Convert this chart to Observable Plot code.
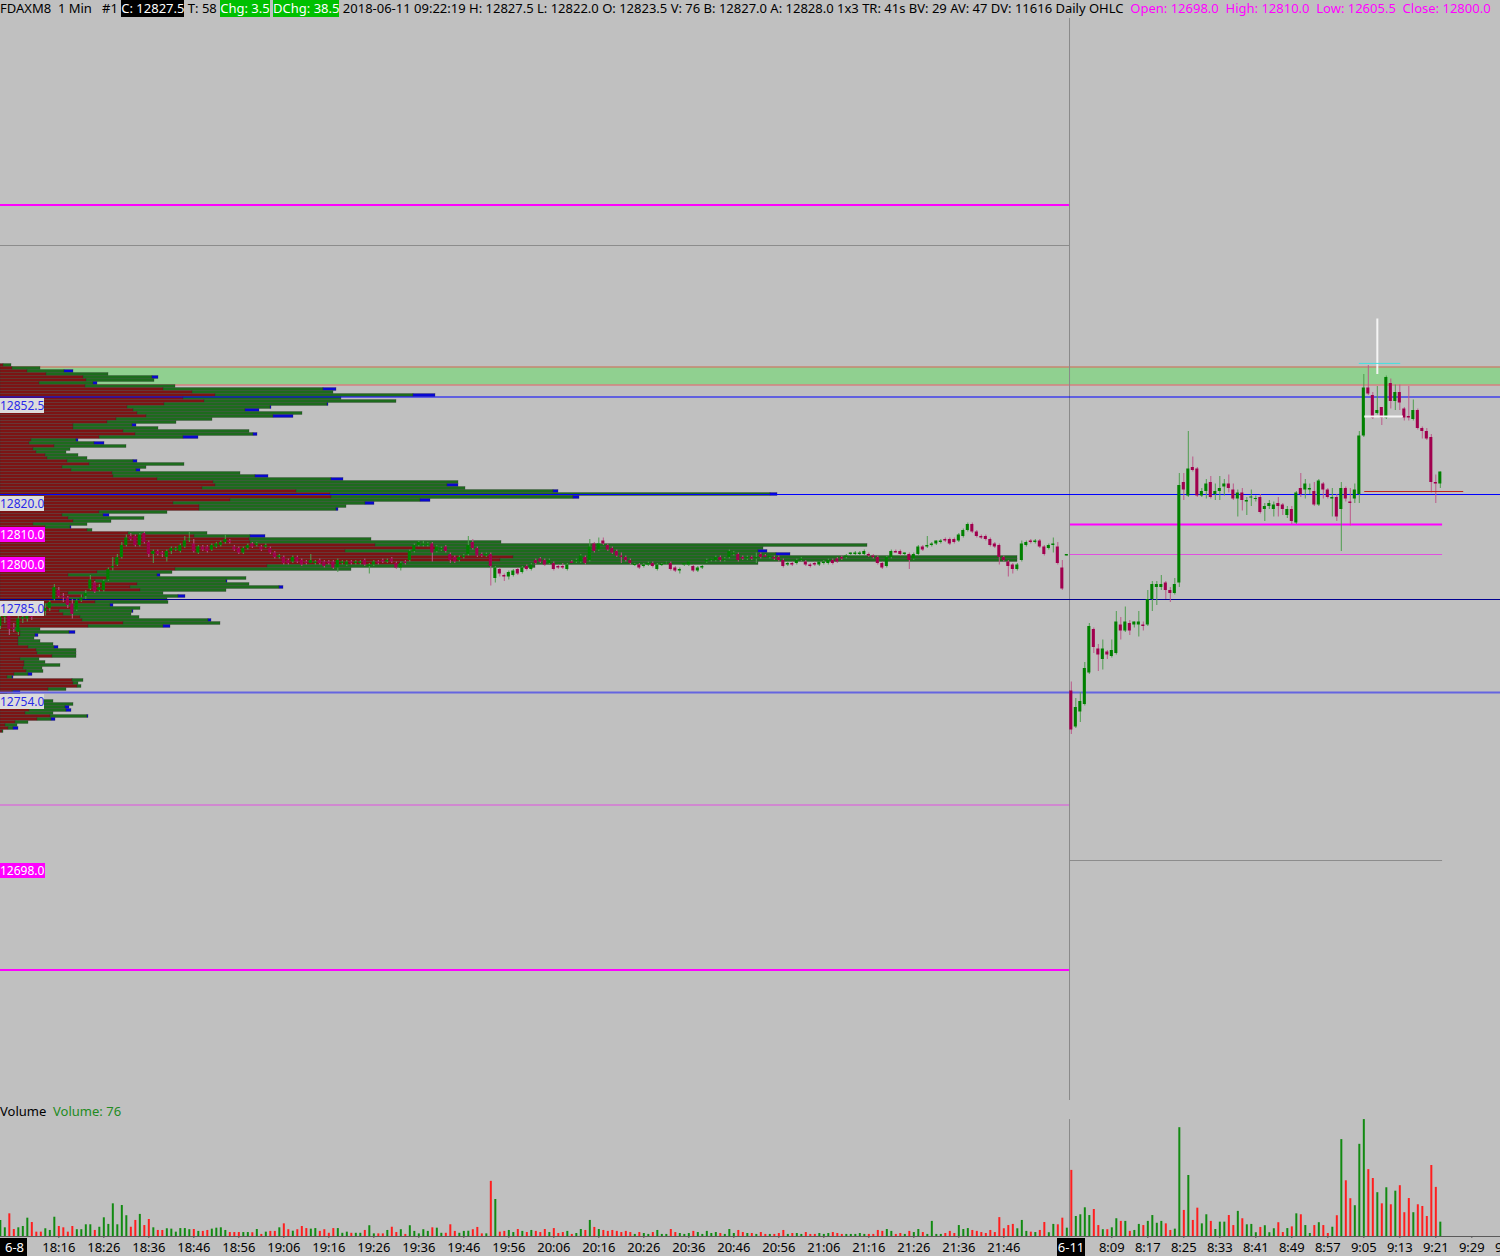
<!DOCTYPE html>
<html>
<head>
<meta charset="utf-8">
<script src="https://cdn.jsdelivr.net/npm/d3@7"></script>
<script src="https://cdn.jsdelivr.net/npm/@observablehq/plot@0.6"></script>
<style>
html,body{margin:0;padding:0;background:#c0c0c0;overflow:hidden}
#root{position:relative;width:1500px;height:1256px;background:#c0c0c0;font-family:"Noto Sans",sans-serif;overflow:hidden}
.hdr{position:absolute;left:0;top:0;height:18px;line-height:17px;font-size:13px;white-space:pre;color:#000}
.hdr .blk{background:#000;color:#fff}
.hdr .grn{background:#00c000;color:#fff}
.hdr .mag{color:#ff00ff}
#pricebox{position:absolute;left:0;top:18px;width:1500px;height:1082px}
#pricebox svg{position:absolute;left:0;top:0}
.plab{position:absolute;font-size:12px;line-height:15px;height:15px;white-space:pre}
.plab.lt{background:#dcdcdc;color:#2a2ae8}
.plab.mg{background:#ff00ff;color:#fff}
#volbox{position:absolute;left:0;top:1100px;width:1500px;height:156px}
#volbox svg{position:absolute;left:0;top:0}
.vlab{position:absolute;left:0;top:3px;font-size:13px;line-height:16px;white-space:pre}
.dlab{position:absolute;top:138px;height:18px;line-height:18px;font-size:13px;background:#000;color:#fff;white-space:pre}
</style>
</head>
<body>
<div id="root">
  <div id="hdr" class="hdr"></div>
  <div id="pricebox"></div>
  <div id="volbox"></div>
</div>
<script>
// ---------------- header texts ----------------
const headerLead = "FDAXM8  1 Min   #1 ";
const headerLast = "C: 12827.5";
const headerTicks = " T: 58 ";
const headerChg = "Chg: 3.5";
const headerDChg = "DChg: 38.5";
const headerInfo = " 2018-06-11 09:22:19 H: 12827.5 L: 12822.0 O: 12823.5 V: 76 B: 12827.0 A: 12828.0 1x3 TR: 41s BV: 29 AV: 47 DV: 11616 Daily OHLC";
const dailyOpen = 12698.0, dailyHigh = 12810.0, dailyLow = 12605.5, dailyClose = 12800.0;

// ---------------- price bars (open, high, low, close) ----------------
const leftStart = 3;   // bar index of first visible bar of 2018-6-8 (18:03), index = minutes after 18:00
const leftBars = [
[12776,12780,12775,12779],[12779,12781,12777,12780],[12780,12781,12773,12775],[12775.5,12777,12774,12775],[12774,12780,12773,12778.5],[12778.5,12780,12777,12779],[12778.5,12780.5,12777.5,12779.5],[12780,12781,12778,12779],[12781.5,12782.5,12780,12780.5],[12782.5,12783,12781,12781.5],
[12781,12783.5,12779.5,12782],[12782,12784.5,12781,12784],[12785,12790,12784.5,12789],[12788,12789,12785.5,12786],[12786,12787,12784,12785.5],[12785.5,12786,12782,12783],[12783.5,12785,12778.5,12780],[12781.5,12785,12781,12784.5],[12784.5,12786.5,12784,12785.5],[12786,12788,12785,12787],
[12788.5,12793,12788,12791.5],[12790.5,12791,12787,12787.5],[12788,12790,12787.5,12789],[12788,12791.5,12787.5,12791],[12791.5,12795.5,12791,12795],[12795.5,12799,12794.5,12796],[12796.5,12800,12796,12799],[12799,12804,12798.5,12803],[12803,12806.5,12802.5,12805.5],[12806,12807,12804.5,12805],
[12806,12806.5,12802.5,12803],[12803,12807,12802.5,12806.5],[12807,12807.5,12803.5,12804],[12804,12804.5,12799,12800],[12800,12801.5,12797,12801],[12801,12801.5,12799.5,12800],[12800.5,12801,12799,12800],[12799,12801.5,12797.5,12801],[12801,12802.5,12800,12802],[12801.5,12802.5,12801,12802],
[12801,12803.5,12800.5,12803],[12802.5,12806,12802,12804.5],[12805,12807.5,12804,12805],[12803.5,12805,12800.5,12801],[12800.5,12803,12800,12802.5],[12802.5,12803,12801,12801.5],[12802.5,12803,12800.5,12801],[12801.5,12803.5,12801,12803],[12802.5,12804,12802,12803.5],[12803,12804.5,12802.5,12804],
[12804,12806.5,12803.5,12805],[12804.5,12805,12803.5,12804],[12802.5,12803,12801,12801.5],[12802,12802.5,12800,12800.5],[12800.5,12802.5,12800,12802],[12802,12803.5,12801.5,12803],[12803.5,12804,12802,12802.5],[12803,12804,12802.5,12803.5],[12802.5,12803,12801,12801.5],[12802.5,12803.5,12802,12803],
[12802,12802.5,12800,12800.5],[12800.5,12801,12798.5,12799],[12799,12800,12798.5,12799.5],[12799,12799.5,12796.5,12797],[12798,12798.5,12796.5,12797],[12797.5,12799.5,12797,12799],[12799,12799.5,12797,12797.5],[12798,12798.5,12796,12796.5],[12797.5,12798,12796.5,12797],[12797,12800,12797,12798],
[12797,12798,12796.5,12797.5],[12798,12798.5,12796.5,12797],[12797.5,12798,12795.5,12796],[12797.5,12798,12796.5,12797],[12797.5,12798,12795,12795.5],[12795.5,12798.5,12794,12798],[12797,12798,12796.5,12797.5],[12796.5,12798,12796,12797.5],[12797.5,12798,12796.5,12797],[12797,12798,12796.5,12797.5],
[12797,12798,12796.5,12797.5],[12798,12798.5,12796,12796.5],[12796,12797,12793.5,12796.5],[12796.5,12798,12796,12797.5],[12797.5,12798,12796.5,12797],[12798,12798.5,12797,12797.5],[12797.5,12798.5,12797,12798],[12798.5,12799,12797,12797.5],[12797,12797.5,12795,12795.5],[12795.5,12797.5,12794.5,12797],
[12797.5,12798,12796.5,12797],[12798,12801.5,12797.5,12801],[12801,12803.5,12800.5,12803],[12803,12804.5,12802.5,12804],[12803,12804.5,12802.5,12803.5],[12803,12804,12802.5,12803.5],[12803.5,12804,12797.5,12800.5],[12801,12803,12800.5,12802.5],[12801.5,12802.5,12801,12802],[12802.5,12803,12800.5,12801],
[12800,12800.5,12797,12798],[12799,12799.5,12797,12797.5],[12798,12799.5,12797.5,12799],[12799,12800,12798.5,12799.5],[12800,12806,12799.5,12803],[12804,12805,12801.5,12802],[12802,12802.5,12799,12799.5],[12800,12800.5,12799,12799.5],[12799.5,12800.5,12799,12800],[12800,12800.5,12789.5,12796],
[12792,12796,12790.5,12795.5],[12795,12795.5,12792.5,12793.5],[12793,12793.5,12791,12792.5],[12792.5,12794.5,12791.5,12794],[12793,12795,12792.5,12794.5],[12795,12795.5,12793,12793.5],[12794,12796,12793.5,12795.5],[12796,12796.5,12794.5,12795],[12795,12797,12794.5,12796.5],[12798,12798.5,12796.5,12797],
[12798.5,12799,12797,12797.5],[12798,12798.5,12796,12796.5],[12797,12798.5,12796.5,12798],[12797,12797.5,12794.5,12795],[12796,12796.5,12795,12795.5],[12796,12797,12795,12795.5],[12795,12797,12794.5,12796.5],[12797.5,12798,12797,12797],[12797.5,12798.5,12797,12798],[12797.5,12800,12797,12799.5],
[12799,12799.5,12796.5,12797],[12798,12805,12797.5,12802.5],[12803.5,12804,12800.5,12801],[12801.5,12805.5,12801,12803.5],[12804.5,12805.5,12803,12803.5],[12803,12803.5,12801,12801.5],[12802,12802.5,12800,12800.5],[12801,12801.5,12799,12799.5],[12799.5,12800.5,12797,12799],[12799,12799.5,12797.5,12798],
[12798,12798.5,12796.5,12797],[12796.5,12797,12796,12796.5],[12796.5,12797,12795,12795.5],[12796,12797,12795.5,12796.5],[12796.5,12797.5,12796,12797],[12797,12797.5,12795.5,12796],[12795,12797,12794.5,12796.5],[12796.5,12797,12796,12796.5],[12797,12797.5,12796.5,12797],[12797,12797.5,12794.5,12795],
[12795.5,12796,12794,12794.5],[12794.5,12795.5,12793.5,12795],[12796.5,12797,12796,12797],[12796.5,12797.5,12796,12797.5],[12796,12796.5,12794,12794.5],[12794.5,12796,12794,12795.5],[12795.5,12796.5,12795,12796],[12797.5,12798.5,12797,12798],[12798,12798.5,12797.5,12798.5],[12798,12799.5,12797.5,12799],
[12799,12799.5,12797.5,12798],[12798,12799,12797.5,12798.5],[12799,12801.5,12798.5,12801],[12800,12801,12799.5,12800.5],[12800,12800.5,12797.5,12798],[12799,12799.5,12798,12798.5],[12798.5,12799.5,12798,12799],[12799,12799.5,12798,12798.5],[12798.5,12800.5,12797,12799],[12800,12800.5,12798.5,12799],
[12799.5,12800,12799,12799],[12799,12799.5,12798.5,12799.5],[12799,12799.5,12798,12798.5],[12799,12799.5,12797.5,12798],[12798,12798.5,12795.5,12796],[12796.5,12797.5,12796,12797],[12797,12797.5,12796,12796.5],[12797,12798.5,12796.5,12798],[12798,12799,12797.5,12798.5],[12797.5,12798,12796,12796.5],
[12796.5,12797,12795.5,12796],[12797,12797.5,12796,12796.5],[12796.5,12797.5,12796,12797.5],[12797,12798,12796.5,12797.5],[12797,12798.5,12796.5,12798],[12798,12798.5,12796.5,12797],[12798.5,12799,12797,12797.5],[12799,12799.5,12798,12798.5],[12799,12800,12798.5,12799.5],[12800,12800.5,12799.5,12800.5],
[12800,12801,12799.5,12800.5],[12800,12801,12799.5,12800.5],[12800,12801.5,12799.5,12801],[12800,12800.5,12799,12799.5],[12799.5,12800,12798.5,12799],[12799,12799.5,12796.5,12797],[12797,12797.5,12795,12795.5],[12796,12799.5,12795.5,12799],[12799,12801.5,12798.5,12801],[12801,12801.5,12800.5,12800.5],
[12801,12801.5,12799.5,12800],[12800,12800.5,12799.5,12800.5],[12800,12800.5,12795,12798],[12798.5,12800.5,12798,12800],[12800,12803,12799.5,12802.5],[12802.5,12803,12801,12801.5],[12802.5,12806,12802,12803],[12803,12804,12802.5,12803.5],[12803.5,12804.5,12803,12804.5],[12804,12805,12803.5,12804.5],
[12805,12805.5,12804,12804.5],[12805,12805.5,12803,12803.5],[12805,12805.5,12803.5,12804],[12804.5,12807,12804,12806.5],[12806,12808.5,12805.5,12808],[12808,12810.5,12807.5,12810],[12810,12810.5,12807,12807.5],[12807.5,12808,12805.5,12806],[12806,12806.5,12805,12805.5],[12806,12806.5,12804.5,12805],
[12805,12805.5,12802.5,12803],[12803.5,12804,12802,12802.5],[12803,12803.5,12796.5,12799],[12799,12799.5,12797.5,12798],[12797.5,12798,12792.5,12796],[12796.5,12797,12793.5,12795],[12795,12797,12794.5,12796.5],[12798,12804.5,12797.5,12803.5],[12803,12804.5,12802.5,12804],[12804.5,12805,12803.5,12804],
[12804,12805,12803.5,12804.5],[12804.5,12805,12802,12802.5],[12802.5,12803,12799.5,12800],[12802,12803.5,12801.5,12803],[12803,12805.5,12800.5,12803.5],[12802.5,12804,12796.5,12797],[12795.5,12798,12788,12788.5],[12799.5,12800,12799.5,12800]
];
const leftVolume = [
85,46,120,37,46,53,97,74,23,23, 41,32,102,53,46,23,53,36,36,62, 62,32,49,99,64,173,62,164,110,49,
85,117,58,90,46,32,32,41,39,23, 42,42,36,37,27,27,32,39,44,46, 32,21,21,21,21,21,20,37,11,23,
27,27,46,67,36,28,36,53,42,39, 42,27,36,17,42,42,17,23,17,17, 17,32,57,14,14,14,32,49,21,36,
11,57,27,14,36,27,46,44,17,17, 62,27,17,27,28,36,48,14,14,292, 196,23,27,32,21,37,27,21,32,27,
21,37,21,42,16,21,27,11,16,37, 32,85,48,37,32,27,32,27,21,27, 21,11,21,16,11,21,32,11,11,37,
21,16,11,16,27,21,11,27,16,21, 16,11,37,16,32,21,16,16,11,21, 11,11,11,16,32,11,16,16,11,21,
11,11,16,11,16,21,16,11,11,11, 11,16,11,11,11,32,27,37,27,11, 16,11,27,21,37,21,11,80,11,11,
16,27,16,58,37,42,32,27,21,16, 32,21,100,41,58,64,41,85,27,23, 21,32,74,20,64,62,97,44
];

const rightStart = 241; // 2018-6-11 08:00
const rightBars = [
[12754.5,12757.5,12740,12741.5],[12742.5,12752,12742,12749],[12747.5,12754,12744,12751],[12750,12764,12749.5,12762],[12760.5,12777,12760,12776],[12775,12775.5,12767,12769],[12768.5,12770,12761,12766.5],[12765,12771.5,12761.5,12768.5],[12767.5,12768,12765,12766.5],[12766,12771.5,12765.5,12768],
[12767,12781,12766.5,12777.5],[12776.5,12779,12771.5,12774.5],[12774.5,12782.5,12774,12777.5],[12777,12778,12773,12774.5],[12776.5,12777.5,12775.5,12777.5],[12776.5,12781,12772.5,12777.5],[12776.5,12777.5,12774.5,12776],[12776.5,12788,12776,12785],[12785,12791,12781,12790],[12789,12791,12783,12790],
[12789,12793,12788,12790],[12790.5,12791,12785,12788],[12788,12789,12784,12787],[12787,12792,12786.5,12790],[12790.5,12827,12789,12823],[12824,12827,12818,12821.5],[12819.5,12841,12819,12828.5],[12829,12832.5,12827.5,12828],[12828.5,12829,12819,12819.5],[12819.5,12822,12819,12821],
[12821,12825,12818.5,12823.5],[12824,12826,12818.5,12819],[12820,12823.5,12818,12821],[12821,12826,12818,12822],[12822.5,12825,12819.5,12823.5],[12823.5,12826.5,12820.5,12822],[12821.5,12823.5,12818,12818.5],[12818.5,12821.5,12812.5,12820.5],[12820.5,12822,12814.5,12818],[12817.5,12819,12813,12818],
[12819,12821.5,12816,12819],[12818.5,12819.5,12817.5,12818.5],[12819,12820,12813.5,12814],[12815,12817,12811,12816],[12816,12818,12815,12817],[12815,12817.5,12812.5,12816.5],[12817,12819,12812.5,12816],[12816.5,12817,12813,12815],[12813,12816,12812,12815],[12815,12816,12810,12811],
[12810.5,12821,12810,12820.5],[12822,12827,12819,12820],[12821.5,12825,12818.5,12823.5],[12821.5,12823.5,12820,12822],[12821,12824,12816,12816.5],[12816.5,12825,12816,12824.5],[12823.5,12824,12818.5,12821.5],[12821.5,12822,12818.5,12819],[12818.5,12822,12812.5,12819],[12819,12820,12811,12812.5],
[12815,12824,12801,12822],[12822,12822.5,12817.5,12818.5],[12817.5,12822,12809.5,12817],[12818.5,12823.5,12817,12821.5],[12820,12841,12817,12839.5],[12839.5,12860,12839,12855.5],[12855.5,12863,12853,12853.5],[12853,12854,12845,12845.5],[12847,12856,12846.5,12848],[12849,12849,12843,12845.5],
[12845.5,12859.5,12845,12859],[12857,12858.5,12848.5,12851],[12851,12856.5,12848,12854],[12854,12856.5,12848,12850.5],[12848.5,12849,12844.5,12845.5],[12846,12856,12844.5,12845.5],[12845,12851.5,12844.5,12848],[12848,12848.5,12841.5,12842],[12842,12842.5,12838.5,12841],[12841,12842,12838,12838.5],
[12839,12840,12820.5,12824],[12824,12826.5,12817,12823.5],[12823.5,12827.5,12822,12827.5]
];
const rightVolume = [
350,106,115,152,111,143,58,36,36,46, 94,80,80,27,32,64,58,80,111,70, 80,67,32,39,576,138,323,85,150,67,
115,80,37,76,76,111,58,133,94,62, 64,20,48,57,20,41,73,21,42,51, 120,115,58,16,58,73,58,16,49,110,
513,295,200,163,488,619,354,307,232,173, 258,168,240,269,126,201,126,168,159,106, 376,260,76
];

// ---------------- volume profile (one row per price point, top = 12863) ----------------
const profileTop = 12863;
const profileSell = [
3,12,27,46,83,86,39,85,163,192, 215,183,204,164,127,133,137,146,116,107, 73,73,123,135,99,31,29,54,33,36,
45,47,67,89,62,71,112,113,157,213, 215,202,296,330,331,230,173,199,199,99, 62,68,73,33,45,87,128,194,249,250,
375,437,345,410,513,500,400,267,175,97, 68,107,95,137,130,140,68,83,67,95, 45,72,59,63,80,82,123,88,14,20,
20,18,18,18,28,36,37,52,20,24, 24,23,26,14,7,72,73,77,48,12, 4,5,38,38,39,29,25,50,37,15, 5,8,2
];
const profileBuy = [
8,28,37,62,69,68,54,90,160,141, 198,158,192,163,143,112,165,127,96,69, 59,85,126,118,84,45,65,72,37,30,
33,40,66,95,84,65,128,142,174,245, 232,263,257,440,242,190,192,147,137,68, 41,76,38,54,25,5,79,56,122,251,
492,326,413,366,504,517,358,268,176,75, 89,139,131,112,149,86,95,95,100,73, 65,68,73,68,59,126,97,75,26,49,
15,16,22,35,26,40,39,24,19,21, 36,19,17,14,5,11,5,4,18,1, 3,5,15,35,26,37,28,37,14,13, 12,5,1
];
const profileAsk = [
0,0,9,0,6,0,4,0,13,0, 22,0,0,1,1,14,0,20,0,0, 4,0,0,4,15,2,10,0,0,0,
0,0,4,0,0,4,0,13,12,0, 11,0,5,7,6,10,9,0,2,0, 6,0,0,0,1,0,0,15,0,0,
0,0,9,14,0,0,0,0,0,0, 3,0,1,0,4,0,0,7,0,0, 3,0,1,0,0,3,0,7,0,6,
3,0,0,0,4,0,0,0,0,0, 0,0,0,4,1,0,0,0,0,7, 0,0,0,0,4,5,0,1,4,0, 0,5,0
];

// ---------------- reference levels ----------------
const prevSessionBold = [12916.5, 12661.5];
const prevSessionThin = [12716.5];
const prevSessionGray = [12903];
const blueLevels = [12852.5, 12820];
const navyLevels = [12785];
const lightBlueLevels = [12754];
const zone = {top: 12862.5, bottom: 12856.5};
const levelLabels = [12852.5, 12820.0, 12810.0, 12800.0, 12785.0, 12754.0, 12698.0];
const highlightedLabels = [12810.0, 12800.0, 12698.0];
const sessionBreak = 240.6;
const cursorVertical = {i: 309, p1: 12860, p2: 12878.5};
const cursorHorizontal = {i1: 306.2, i2: 314.8, p: 12846};
const cyanMark = {i1: 305, i2: 314.2, p: 12863.7};
const bidMark = {i1: 306.2, i2: 328.2, p: 12821};

// ---------------- time axis ----------------
const tickIndex = [16,26,36,46,56,66,76,86,96,106,116,126,136,146,156,166,176,186,196,206,216,226,
                   250,258,266,274,282,290,298,306,314,322,330,338];
const tickLabels = ["18:16","18:26","18:36","18:46","18:56","19:06","19:16","19:26","19:36","19:46","19:56",
                    "20:06","20:16","20:26","20:36","20:46","20:56","21:06","21:16","21:26","21:36","21:46",
                    "8:09","8:17","8:25","8:33","8:41","8:49","8:57","9:05","9:13","9:21","9:29","9:37"];
const dateLabels = [{i: 241, text: "6-11"}];
const firstDateLabel = "6-8";

// ---------------- build ----------------
const bars = [
  ...leftBars.map((b, k) => ({i: leftStart + k, o: b[0], h: b[1], l: b[2], c: b[3], v: leftVolume[k]})),
  ...rightBars.map((b, k) => ({i: rightStart + k, o: b[0], h: b[1], l: b[2], c: b[3], v: rightVolume[k]}))
];
bars.forEach(d => {
  d.up = d.c >= d.o;
  const lo = Math.min(d.o, d.c), hi = Math.max(d.o, d.c);
  const mid = (lo + hi) / 2;
  d.b1 = hi - lo < 0.34 ? mid - 0.17 : lo;
  d.b2 = hi - lo < 0.34 ? mid + 0.17 : hi;
});
const lastIndex = rightStart + rightBars.length - 1;

const profile = profileSell.map((s, k) => ({p: profileTop - k, s, b: profileBuy[k], a: profileAsk[k]}));
const profRects = [];
profile.forEach(d => {
  profRects.push({p: d.p, x1: 0, x2: d.s, kind: "#7c1414"});
  profRects.push({p: d.p, x1: d.s, x2: d.s + d.b, kind: "#1d6b1d"});
  if (d.a > 0) profRects.push({p: d.p, x1: d.s + d.b, x2: d.s + d.b + d.a, kind: "#0808d0"});
});

const W = 1500, PH = 1082;
const xDomain = [3.04, 3.04 + W / 4.5];
const yDomain = [12618, 12978.667];

const profilePlot = Plot.plot({
  width: W, height: PH, margin: 0,
  x: {domain: [0, W], axis: null},
  y: {domain: yDomain, axis: null},
  color: {type: "identity"},
  style: {background: "#c0c0c0"},
  marks: [
    Plot.rect([zone], {y1: "bottom", y2: "top", fill: "#90d090"}),
    Plot.ruleY([zone.top, zone.bottom], {stroke: "#e06060", strokeWidth: 1}),
    Plot.rect(profRects, {x1: "x1", x2: "x2", y1: d => d.p - 0.5, y2: d => d.p + 0.5, fill: "kind",
      stroke: "#303030", strokeOpacity: 0.45, strokeWidth: 0.6})
  ]
});

const up = "#008000", down = "#a0004e";
const pricePlot = Plot.plot({
  width: W, height: PH, margin: 0,
  x: {domain: xDomain, axis: null},
  y: {domain: yDomain, axis: null},
  color: {type: "identity"},
  style: {background: "transparent"},
  marks: [
    Plot.ruleY(prevSessionBold, {x1: xDomain[0], x2: sessionBreak, stroke: "#ff00ff", strokeWidth: 2}),
    Plot.ruleY(prevSessionThin, {x1: xDomain[0], x2: sessionBreak, stroke: "#e050e0", strokeWidth: 1}),
    Plot.ruleY(prevSessionGray, {x1: xDomain[0], x2: sessionBreak, stroke: "#8c8c8c", strokeWidth: 1}),
    Plot.ruleY([dailyHigh], {x1: sessionBreak, x2: lastIndex + 0.5, stroke: "#ff00ff", strokeWidth: 2}),
    Plot.ruleY([dailyClose], {x1: sessionBreak, x2: lastIndex + 0.5, stroke: "#e050e0", strokeWidth: 1}),
    Plot.ruleY([dailyOpen], {x1: sessionBreak, x2: lastIndex + 0.5, stroke: "#8c8c8c", strokeWidth: 1}),
    Plot.ruleX([sessionBreak], {stroke: "#8a8a8a", strokeWidth: 1}),
    Plot.ruleY(blueLevels, {stroke: "#0000ff", strokeWidth: 1}),
    Plot.ruleY(navyLevels, {stroke: "#000090", strokeWidth: 1}),
    Plot.ruleY(lightBlueLevels, {stroke: "#6464e0", strokeWidth: 2}),
    Plot.ruleX(bars, {x: "i", y1: "l", y2: "h", stroke: d => d.up ? "#4f9d4f" : "#bb5a8a", strokeWidth: 1}),
    Plot.rect(bars, {x1: d => d.i - 0.34, x2: d => d.i + 0.34, y1: "b1", y2: "b2", fill: d => d.up ? up : down}),
    Plot.ruleX([cursorVertical], {x: "i", y1: "p1", y2: "p2", stroke: "#f4f4f4", strokeWidth: 2}),
    Plot.ruleY([cursorHorizontal], {y: "p", x1: "i1", x2: "i2", stroke: "#f4f4f4", strokeWidth: 2}),
    Plot.ruleY([cyanMark], {y: "p", x1: "i1", x2: "i2", stroke: "#40e0e0", strokeWidth: 1}),
    Plot.ruleY([bidMark], {y: "p", x1: "i1", x2: "i2", stroke: "#c02020", strokeWidth: 1})
  ]
});

const pricebox = document.getElementById("pricebox");
pricebox.appendChild(profilePlot);
pricebox.appendChild(pricePlot);

// level labels
const ys = pricePlot.scale("y");
levelLabels.forEach(p => {
  const hi = highlightedLabels.includes(p);
  const el = document.createElement("div");
  el.className = "plab " + (hi ? "mg" : "lt");
  el.textContent = p.toFixed(1);
  el.style.top = (ys.apply(p) + (hi ? 3 : 1.5)) + "px";
  el.style.left = "0px";
  el.style.paddingRight = hi ? "1px" : "0px";
  pricebox.appendChild(el);
});

// volume panel
const VH = 156;
const tickMap = new Map(tickIndex.map((t, k) => [t, tickLabels[k]]));
const volPlot = Plot.plot({
  width: W, height: VH, marginTop: 0, marginBottom: 20, marginLeft: 0, marginRight: 0,
  x: {domain: xDomain},
  y: {domain: [0, 720], axis: null},
  color: {type: "identity"},
  style: {background: "transparent", fontFamily: "Noto Sans", fontSize: "13px", color: "#000"},
  marks: [
    Plot.ruleX([sessionBreak], {y1: 0, y2: d3.max(bars, d => d.v), stroke: "#8a8a8a"}),
    Plot.ruleX(bars, {x: "i", y1: 0, y2: "v", stroke: d => d.up ? "#128a12" : "#ff1e1e", strokeWidth: 2}),
    Plot.ruleY([0], {stroke: "#5a5a5a"}),
    Plot.axisX(tickIndex, {tickFormat: d => tickMap.get(d), tickSize: 2, tickPadding: 4, fontSize: 13, label: null, stroke: "#5a5a5a"})
  ]
});
const volbox = document.getElementById("volbox");
volbox.appendChild(volPlot);
const vl = document.createElement("div");
vl.className = "vlab";
vl.innerHTML = 'Volume  <span style="color:#228b22">Volume: ' + bars[bars.length - 1].v + '</span>';
volbox.appendChild(vl);
const xs = volPlot.scale("x");
dateLabels.forEach(d => {
  const el = document.createElement("div");
  el.className = "dlab";
  el.textContent = d.text;
  el.style.padding = "0 1px";
  el.style.left = (xs.apply(d.i) - 14) + "px";
  volbox.appendChild(el);
});
const fl = document.createElement("div");
fl.className = "dlab";
fl.textContent = firstDateLabel;
fl.style.left = "0px";
fl.style.padding = "0 3px 0 5px";
volbox.appendChild(fl);

// header
const hdr = document.getElementById("hdr");
const f1 = v => v.toFixed(1);
hdr.innerHTML =
  '<span>' + headerLead + '</span><span class="blk">' + headerLast + '</span><span>' + headerTicks +
  '</span><span class="grn">' + headerChg + '</span> <span class="grn">' + headerDChg + '</span><span>' + headerInfo +
  '</span><span class="mag">  Open: ' + f1(dailyOpen) + '  High: ' + f1(dailyHigh) + '  Low: ' + f1(dailyLow) +
  '  Close: ' + f1(dailyClose) + '</span>';
</script>
</body>
</html>
